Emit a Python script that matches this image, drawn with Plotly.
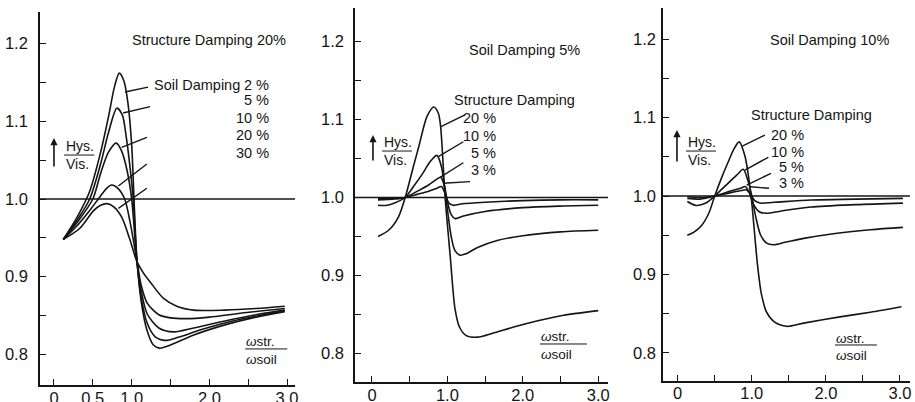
import plotly.graph_objects as go

FONT = "Liberation Sans, Arial, sans-serif"
INK = "#151515"

# ---------------- data ----------------
# common tick labels
x_tickvals = [0, 0.5, 1.0, 1.5, 2.0, 2.5, 3.0]
x_ticktext_a = ["0", "0.5", "1.0", "", "2.0", "", "3.0"]
x_ticktext_bc = ["0", "", "1.0", "", "2.0", "", "3.0"]
y_tickvals = [0.8, 0.85, 0.9, 0.95, 1.0, 1.05, 1.1, 1.15, 1.2]
y_ticktext = ["0.8", "", "0.9", "", "1.0", "", "1.1", "", "1.2"]

# Panel A: Structure damping 20 %, soil damping 2/5/10/20/30 %
a_title = "Structure Damping 20%"
a_series_title = "Soil Damping"
a_labels = ["2 %", "5 %", "10 %", "20 %", "30 %"]
a_x_2 = [0.12, 0.3, 0.46, 0.6, 0.7, 0.78, 0.84, 0.9, 0.95, 1.0, 1.03, 1.065, 1.12, 1.2, 1.28, 1.36, 1.5, 1.8, 2.2, 2.6, 2.97]
a_y_2 = [0.948, 0.977, 1.01, 1.06, 1.105, 1.145, 1.162, 1.152, 1.125, 1.07, 1.0, 0.926, 0.87, 0.83, 0.812, 0.808, 0.812, 0.825, 0.838, 0.848, 0.855]
a_x_5 = [0.12, 0.3, 0.46, 0.6, 0.7, 0.81, 0.88, 0.93, 0.98, 1.02, 1.065, 1.12, 1.2, 1.3, 1.43, 1.6, 1.9, 2.3, 2.7, 2.97]
a_y_5 = [0.948, 0.973, 1.0, 1.045, 1.085, 1.117, 1.108, 1.08, 1.04, 1.0, 0.924, 0.875, 0.84, 0.823, 0.818, 0.822, 0.832, 0.843, 0.851, 0.856]
a_x_10 = [0.12, 0.3, 0.5, 0.6, 0.7, 0.8, 0.87, 0.94, 1.0, 1.065, 1.12, 1.2, 1.35, 1.54, 1.8, 2.2, 2.6, 2.97]
a_y_10 = [0.948, 0.97, 1.0, 1.033, 1.06, 1.072, 1.062, 1.037, 1.0, 0.922, 0.883, 0.852, 0.834, 0.829, 0.834, 0.843, 0.851, 0.857]
a_x_20 = [0.12, 0.3, 0.45, 0.6, 0.68, 0.74, 0.82, 0.91, 0.98, 1.065, 1.12, 1.2, 1.35, 1.5, 1.7, 2.0, 2.4, 2.97]
a_y_20 = [0.948, 0.966, 0.984, 1.004, 1.014, 1.018, 1.014, 1.0, 0.97, 0.922, 0.89, 0.866, 0.851, 0.847, 0.846, 0.848, 0.853, 0.859]
a_x_30 = [0.12, 0.33, 0.51, 0.6, 0.68, 0.77, 0.87, 0.98, 1.065, 1.15, 1.24, 1.41, 1.58, 1.8, 2.2, 2.6, 2.97]
a_y_30 = [0.948, 0.962, 0.985, 0.992, 0.994, 0.99, 0.977, 0.947, 0.92, 0.905, 0.893, 0.872, 0.862, 0.857, 0.857, 0.859, 0.862]

# Panel B: Soil damping 5 %, structure damping 20/10/5/3 %
b_title = "Soil Damping 5%"
b_series_title = "Structure Damping"
b_labels = ["20 %", "10 %", "5 %", "3 %"]
b_x_20 = [0.08, 0.22, 0.35, 0.44, 0.55, 0.62, 0.73, 0.82, 0.88, 0.91, 0.97, 1.04, 1.1, 1.16, 1.25, 1.4, 1.6, 1.88, 2.2, 2.54, 3.0]
b_y_20 = [0.95, 0.958, 0.975, 1.0, 1.04, 1.065, 1.104, 1.116, 1.108, 1.091, 1.0, 0.922, 0.858, 0.834, 0.823, 0.821, 0.826, 0.834, 0.842, 0.849, 0.855]
b_x_10 = [0.08, 0.2, 0.3, 0.44, 0.55, 0.66, 0.78, 0.86, 0.92, 0.98, 1.05, 1.1, 1.17, 1.25, 1.4, 1.66, 2.0, 2.5, 3.0]
b_y_10 = [0.99, 0.99, 0.993, 1.0, 1.014, 1.029, 1.047, 1.054, 1.04, 1.0, 0.95, 0.932, 0.926, 0.928, 0.936, 0.945, 0.951, 0.956, 0.958]
b_x_5 = [0.08, 0.3, 0.44, 0.6, 0.75, 0.85, 0.91, 0.96, 1.0, 1.05, 1.1, 1.2, 1.5, 2.0, 2.5, 3.0]
b_y_5 = [0.997, 0.998, 1.0, 1.008, 1.016, 1.023, 1.026, 1.015, 0.995, 0.978, 0.973, 0.976, 0.982, 0.987, 0.989, 0.99]
b_x_3 = [0.08, 0.3, 0.44, 0.6, 0.75, 0.86, 0.92, 0.97, 1.02, 1.08, 1.2, 1.5, 2.0, 2.5, 3.0]
b_y_3 = [0.999, 0.999, 1.0, 1.004, 1.008, 1.012, 1.014, 1.005, 0.993, 0.99, 0.992, 0.994, 0.996, 0.997, 0.997]

# Panel C: Soil damping 10 %, structure damping 20/10/5/3 %
c_title = "Soil Damping 10%"
c_series_title = "Structure Damping"
c_labels = ["20 %", "10 %", "5 %", "3 %"]
c_x_20 = [0.13, 0.22, 0.32, 0.42, 0.5, 0.6, 0.68, 0.76, 0.83, 0.91, 0.99, 1.04, 1.08, 1.13, 1.2, 1.3, 1.47, 1.7, 2.19, 2.6, 3.02]
c_y_20 = [0.95, 0.954, 0.962, 0.978, 1.0, 1.025, 1.043, 1.06, 1.069, 1.05, 1.0, 0.95, 0.91, 0.875, 0.852, 0.84, 0.834, 0.838, 0.846, 0.852, 0.859]
c_x_10 = [0.13, 0.25, 0.38, 0.5, 0.6, 0.7, 0.8, 0.885, 0.94, 1.0, 1.05, 1.12, 1.2, 1.29, 1.45, 1.7, 2.1, 2.6, 3.04]
c_y_10 = [0.993, 0.988, 0.991, 1.0, 1.009, 1.018, 1.027, 1.034, 1.022, 1.0, 0.975, 0.95, 0.94, 0.938, 0.941, 0.946, 0.952, 0.957, 0.96]
c_x_5 = [0.13, 0.3, 0.5, 0.7, 0.85, 0.91, 0.96, 1.02, 1.1, 1.2, 1.4, 1.8, 2.4, 3.04]
c_y_5 = [0.997, 0.996, 1.0, 1.006, 1.01, 1.012, 1.006, 0.99, 0.98, 0.978, 0.981, 0.986, 0.989, 0.991]
c_x_3 = [0.13, 0.3, 0.5, 0.7, 0.86, 0.92, 0.98, 1.04, 1.11, 1.3, 1.8, 2.4, 3.04]
c_y_3 = [0.999, 0.998, 1.0, 1.004, 1.007, 1.008, 1.003, 0.994, 0.991, 0.992, 0.995, 0.996, 0.997]

ref_level = 1.0

# ---------------- figure ----------------
fig = go.Figure()

panels = [
    ("x", "y", [(a_x_2, a_y_2), (a_x_5, a_y_5), (a_x_10, a_y_10), (a_x_20, a_y_20), (a_x_30, a_y_30)], a_labels),
    ("x2", "y2", [(b_x_20, b_y_20), (b_x_10, b_y_10), (b_x_5, b_y_5), (b_x_3, b_y_3)], b_labels),
    ("x3", "y3", [(c_x_20, c_y_20), (c_x_10, c_y_10), (c_x_5, c_y_5), (c_x_3, c_y_3)], c_labels),
]
for xa, ya, series, labels in panels:
    for (xs, ys), lab in zip(series, labels):
        fig.add_trace(go.Scatter(
            x=xs, y=ys, mode="lines", name=lab, xaxis=xa, yaxis=ya,
            line=dict(color=INK, width=1.6, shape="spline", smoothing=0.8),
            hoverinfo="skip", showlegend=False,
        ))

def xaxis(domain, rng, ticktext, anchor):
    return dict(domain=domain, range=rng, anchor=anchor, tickmode="array",
                tickvals=x_tickvals, ticktext=ticktext, ticks="inside", ticklen=6,
                tickwidth=1.4, tickcolor=INK, showline=True, linecolor=INK, linewidth=1.6,
                showgrid=False, zeroline=False, fixedrange=True,
                tickfont=dict(family=FONT, size=16.5, color=INK), ticklabelstandoff=-3,
                automargin=False)

def yaxis(domain, rng, anchor, standoff):
    return dict(domain=domain, range=rng, anchor=anchor, tickmode="array",
                tickvals=y_tickvals, ticktext=y_ticktext, ticks="inside", ticklen=6,
                tickwidth=1.4, tickcolor=INK, showline=True, linecolor=INK, linewidth=1.6,
                showgrid=False, zeroline=False, fixedrange=True,
                tickfont=dict(family=FONT, size=16.5, color=INK), ticklabelstandoff=standoff,
                automargin=False)

fig.update_layout(
    width=915, height=402, margin=dict(l=0, r=0, t=0, b=0),
    paper_bgcolor="white", plot_bgcolor="white", showlegend=False,
    font=dict(family=FONT, size=14, color=INK),
    xaxis=xaxis([0.0437, 0.3224], [-0.180, 3.102], x_ticktext_a, "y"),
    yaxis=yaxis([0.0423, 0.9701], [0.7606, 1.2407], "x", 7),
    xaxis2=xaxis([0.388, 0.6645], [-0.225, 3.13], x_ticktext_bc, "y2"),
    yaxis2=yaxis([0.0498, 0.980], [0.7635, 1.2429], "x2", 6),
    xaxis3=xaxis([0.7246, 0.9945], [-0.198, 3.135], x_ticktext_bc, "y3"),
    yaxis3=yaxis([0.053, 0.980], [0.7647, 1.2395], "x3", 2),
)

shapes = []
annotations = []

def line(xr, yr, x0, y0, x1, y1, w=1.4):
    shapes.append(dict(type="line", xref=xr, yref=yr, x0=x0, y0=y0, x1=x1, y1=y1,
                       line=dict(color=INK, width=w)))

def text(xr, yr, x, y, t, anchor="left", size=14):
    annotations.append(dict(xref=xr, yref=yr, x=x, y=y, text=t, showarrow=False,
                            xanchor=anchor, yanchor="middle", borderpad=0,
                            font=dict(family=FONT, size=size, color=INK)))

# reference line y = 1.0 in each panel
for xr, yr in [("x", "y"), ("x2", "y2"), ("x3", "y3")]:
    shapes.append(dict(type="line", xref=xr + " domain", yref=yr, x0=0, x1=1,
                       y0=ref_level, y1=ref_level, line=dict(color=INK, width=1.5)))

# ---- Panel A decorations
text("x", "y", 2.0, 1.2046, a_title, "center", 14.5)
text("x", "y", 1.276, 1.1467, a_series_title, size=14.5)
for lab, yy in zip(a_labels, [1.1467, 1.1274, 1.1042, 1.0824, 1.0592]):
    text("x", "y", 2.783, yy, lab, "right", 14.5)
for (x0, y0, x1, y1) in [(0.915, 1.1377, 1.211, 1.1441), (0.889, 1.1107, 1.237, 1.1190),
                         (0.872, 1.0665, 1.195, 1.0794), (0.829, 1.0167, 1.195, 1.045),
                         (0.829, 0.988, 1.195, 1.0138)]:
    line("x", "y", x0, y0, x1, y1)

# ---- Panel B decorations
text("x2", "y2", 2.016, 1.189, b_title, "center", 14.5)
text("x2", "y2", 1.074, 1.125, b_series_title, size=14.5)
for lab, yy in zip(b_labels, [1.1019, 1.0788, 1.0571, 1.0353]):
    text("x2", "y2", 1.658, yy, lab, "right", 14.5)
for (x0, y0, x1, y1) in [(0.915, 1.0908, 1.233, 1.1058), (0.879, 1.0523, 1.211, 1.0715),
                         (0.902, 1.0259, 1.211, 1.0446), (0.946, 1.0182, 1.30, 1.0203)]:
    line("x2", "y2", x0, y0, x1, y1)

# ---- Panel C decorations
text("x3", "y3", 2.049, 1.1987, c_title, "center", 14.5)
text("x3", "y3", 1.812, 1.1032, c_series_title, "center", 14.5)
for lab, yy in zip(c_labels, [1.0777, 1.056, 1.0369, 1.0166]):
    text("x3", "y3", 1.718, yy, lab, "right", 14.5)
for (x0, y0, x1, y1) in [(0.872, 1.0637, 1.178, 1.0777), (0.908, 1.0331, 1.223, 1.0493),
                         (0.931, 1.014, 1.259, 1.0289), (0.976, 1.0118, 1.232, 1.0098)]:
    line("x3", "y3", x0, y0, x1, y1)

# ---- Hys./Vis. labels with upward arrow, and omega ratio labels
hys = [("x", "y", 0.142, 1.0682, 1.0566, 1.045, 0.13, 0.52, 0.0, 1.04, 1.0785),
       ("x2", "y2", 0.146, 1.0712, 1.0596, 1.048, 0.133, 0.53, 0.013, 1.0455, 1.0801),
       ("x3", "y3", 0.126, 1.0688, 1.0573, 1.0459, 0.112, 0.517, -0.01, 1.042, 1.0841)]
for xr, yr, xl, yh, yline, yv, lx0, lx1, ax_, ay0, ay1 in hys:
    text(xr, yr, xl, yh, "Hys.", size=14)
    text(xr, yr, xl, yv, "Vis.", size=14)
    line(xr, yr, lx0, yline, lx1, yline, 1.0)
    annotations.append(dict(xref=xr, yref=yr, x=ax_, y=ay1, ax=ax_, ay=ay0,
                            axref=xr, ayref=yr, text="", showarrow=True,
                            arrowhead=2, arrowsize=0.9, arrowwidth=1.6, arrowcolor=INK))

omg = [("x", "y", 2.461, 0.816, 0.807, 0.794, 3.003),
       ("x2", "y2", 2.228, 0.8224, 0.8122, 0.7981, 2.851),
       ("x3", "y3", 2.123, 0.8191, 0.8102, 0.7962, 2.689)]
for xr, yr, xl, ys, yl, yso, xe in omg:
    text(xr, yr, xl, ys, "<i>ω</i>str.", size=13.5)
    text(xr, yr, xl, yso, "<i>ω</i>soil", size=13.5)
    line(xr, yr, xl, yl, xe, yl, 1.0)

fig.update_layout(shapes=shapes, annotations=annotations)

fig.write_html("out.html", config={"displayModeBar": False},
               post_script="document.body.style.margin='0';document.body.style.padding='0';")
